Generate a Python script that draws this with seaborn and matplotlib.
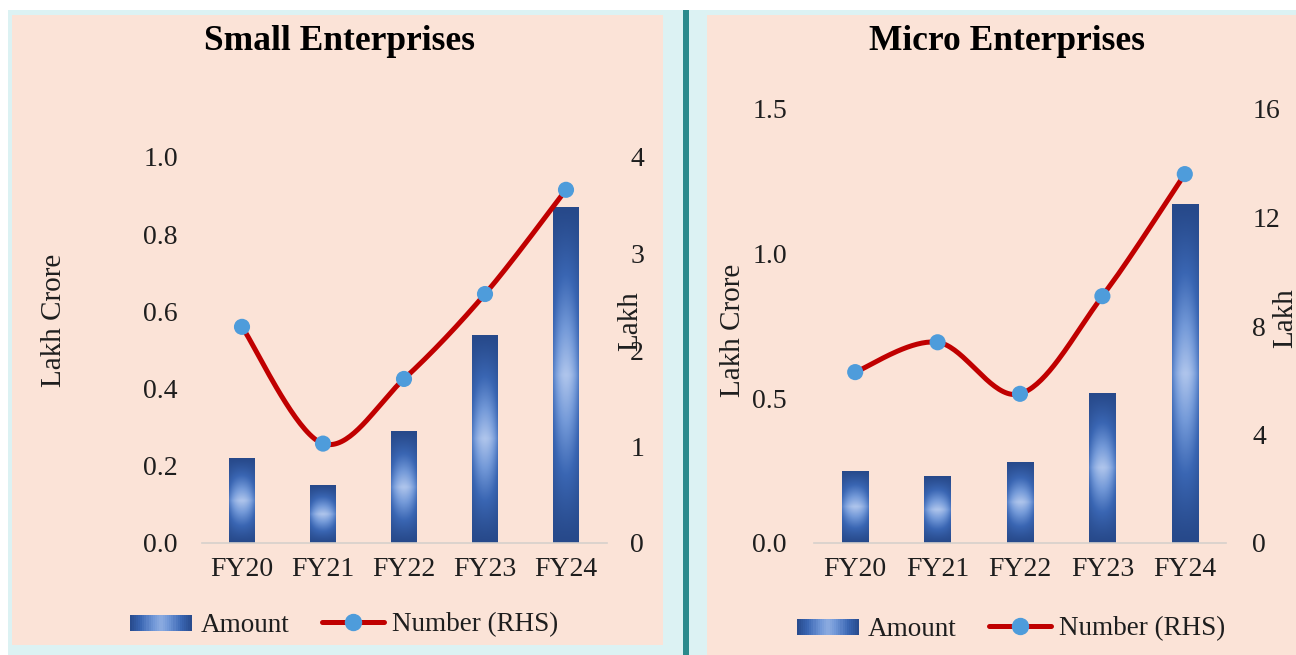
import numpy as np
import pandas as pd
import matplotlib
matplotlib.use("Agg")
import matplotlib.pyplot as plt
import seaborn as sns
from matplotlib.patches import Rectangle
from matplotlib.lines import Line2D
from matplotlib.colors import LinearSegmentedColormap
from matplotlib.legend_handler import HandlerBase

# ---- data -------------------------------------------------------------
years = ["FY20", "FY21", "FY22", "FY23", "FY24"]

small_amount = [0.22, 0.15, 0.29, 0.54, 0.87]   # Lakh Crore
small_number = [2.24, 1.03, 1.70, 2.58, 3.66]   # Lakh (RHS)

micro_amount = [0.25, 0.23, 0.28, 0.52, 1.17]   # Lakh Crore
micro_number = [6.3, 7.4, 5.5, 9.1, 13.6]       # Lakh (RHS)

small_left_ticks = [0.0, 0.2, 0.4, 0.6, 0.8, 1.0]
small_right_ticks = [0, 1, 2, 3, 4]
micro_left_ticks = [0.0, 0.5, 1.0, 1.5]
micro_right_ticks = [0, 4, 8, 12, 16]

# ---- style ------------------------------------------------------------
sns.set_theme(style="white")
plt.rcParams["font.family"] = ["Liberation Serif", "DejaVu Serif"]

W, H = 1296, 655
PEACH = "#FBE3D7"
CYAN = "#DCF2F3"
TEAL = "#2B8A8C"
RED = "#C00000"
DOT = "#4E9CDB"
TXT = "#1E1E1E"
BAR_CMAP = LinearSegmentedColormap.from_list(
    "bar", ["#27498A", "#3A66B3", "#7399D8", "#AFC5EC"])

fig = plt.figure(figsize=(W / 100, H / 100), dpi=100, facecolor="white")


def px_rect(x0, y0, x1, y1, color, z):
    fig.patches.append(Rectangle((x0 / W, 1 - y1 / H), (x1 - x0) / W, (y1 - y0) / H,
                                 transform=fig.transFigure, facecolor=color,
                                 edgecolor="none", zorder=z))


# background frame and panels
px_rect(8, 10, 1296, 655, CYAN, -30)
px_rect(12, 15, 663, 645, PEACH, -20)
px_rect(707, 15, 1296, 655, PEACH, -20)
px_rect(683, 10, 689, 655, TEAL, -10)


def smooth_curve(xs, ys, n=40):
    """Bezier smoothing through the points (control points at +-1/6 of neighbour span)."""
    P = np.column_stack([xs, ys]).astype(float)
    P = np.vstack([P[0], P, P[-1]])
    t = np.linspace(0, 1, n)[:, None]
    segs = []
    for i in range(1, len(P) - 2):
        p0, p1, p2, p3 = P[i - 1], P[i], P[i + 1], P[i + 2]
        c1 = p1 + (p2 - p0) / 6
        c2 = p2 - (p3 - p1) / 6
        seg = (1 - t) ** 3 * p1 + 3 * (1 - t) ** 2 * t * c1 + 3 * (1 - t) * t ** 2 * c2 + t ** 3 * p2
        segs.append(seg if i == 1 else seg[1:])
    return np.vstack(segs)


def bar_gradient(nv=200, nu=40):
    v = np.linspace(-1, 1, nv)[:, None]
    u = np.linspace(-1, 1, nu)[None, :]
    s = (1 - np.abs(v)) ** 1.2 * (1 - 0.5 * u ** 2)
    return BAR_CMAP(np.clip(s, 0, 1))


def panel(rect, amount, number, lticks, rticks, lfmt, lpad, rpad):
    ax = fig.add_axes(rect)
    ax.set_facecolor("none")
    df = pd.DataFrame({"year": years, "amount": amount})
    sns.barplot(data=df, x="year", y="amount", ax=ax, width=0.32,
                color="#3E6DBA", saturation=1, linewidth=0)
    grad = bar_gradient()
    for p in ax.patches:
        x0, y0 = p.get_x(), p.get_y()
        w, h = p.get_width(), p.get_height()
        im = ax.imshow(grad, extent=[x0, x0 + w, y0, y0 + h], origin="lower",
                       aspect="auto", zorder=2, interpolation="bilinear")
        im.set_clip_path(p)
        p.set_facecolor("none")
    ax.set_xlim(-0.5, len(years) - 0.5)
    ax.set_ylim(lticks[0], lticks[-1])
    ax.set_yticks(lticks)
    ax.set_yticklabels([lfmt.format(v) for v in lticks])
    ax.set_xlabel("")
    ax.set_ylabel("")
    for side in ["top", "left", "right"]:
        ax.spines[side].set_visible(False)
    ax.spines["bottom"].set_color("#D6D0CC")
    ax.spines["bottom"].set_linewidth(1.2)
    ax.tick_params(axis="y", length=0, pad=lpad, labelsize=20, labelcolor=TXT)
    ax.tick_params(axis="x", length=0, pad=10, labelsize=20, labelcolor=TXT)

    ax2 = ax.twinx()
    ax2.set_facecolor("none")
    xs = np.arange(len(years))
    curve = smooth_curve(xs, number)
    sns.lineplot(x=curve[:, 0], y=curve[:, 1], ax=ax2, color=RED, linewidth=3.6,
                 sort=False, estimator=None, zorder=3)
    sns.scatterplot(x=xs, y=number, ax=ax2, color=DOT, s=135, edgecolor="none",
                    zorder=4)
    ax2.set_ylim(rticks[0], rticks[-1])
    ax2.set_yticks(rticks)
    ax2.set_yticklabels([str(v) for v in rticks])
    ax2.set_xlim(-0.5, len(years) - 0.5)
    for side in ["top", "left", "right", "bottom"]:
        ax2.spines[side].set_visible(False)
    ax2.tick_params(axis="y", length=0, pad=rpad, labelsize=20, labelcolor=TXT)
    ax2.set_ylabel("")
    return ax, ax2


class GradientBarHandler(HandlerBase):
    def create_artists(self, legend, orig_handle, xdescent, ydescent, width, height,
                       fontsize, trans):
        n = 30
        arts = []
        for i in range(n):
            u = (i + 0.5) / n * 2 - 1
            s = 0.8 * (1 - abs(u) ** 1.2)
            arts.append(Rectangle((-xdescent + i * width / n, -ydescent + 0.05 * height),
                                  width / n * 1.05, height * 0.8,
                                  facecolor=BAR_CMAP(s), edgecolor="none",
                                  transform=trans))
        return arts


def add_legend(cx, cy):
    bar_h = Rectangle((0, 0), 1, 1)
    line_h = Line2D([], [], color=RED, lw=3.6, marker="o", markersize=11.5,
                    markerfacecolor=DOT, markeredgecolor=DOT)
    fig.legend([bar_h, line_h], ["Amount", "Number (RHS)"], loc="center",
               bbox_to_anchor=(cx / W, 1 - cy / H), ncol=2, frameon=False,
               fontsize=19.5, handlelength=2.3, handletextpad=0.3,
               columnspacing=1.2, labelcolor=TXT,
               handler_map={Rectangle: GradientBarHandler()})


# ---- Small Enterprises --------------------------------------------------
panel([201.5 / W, 112 / H, 405 / W, 386 / H], small_amount, small_number,
      small_left_ticks, small_right_ticks, "{:.1f}", 17, 17)
fig.text(340 / W, 1 - 42 / H, "Small Enterprises", ha="center", va="center",
         fontsize=25.5, fontweight="bold", color="black")
fig.text(54 / W, 1 - 320 / H, "Lakh Crore", rotation=90, ha="center", va="center",
         fontsize=21, color=TXT)
fig.text(630 / W, 1 - 321 / H, "Lakh", rotation=90, ha="center", va="center",
         fontsize=21, color=TXT)
add_legend(344, 625)

# ---- Micro Enterprises --------------------------------------------------
panel([814 / W, 112 / H, 412 / W, 434 / H], micro_amount, micro_number,
      micro_left_ticks, micro_right_ticks, "{:.1f}", 19.5, 19)
fig.text(1007 / W, 1 - 42 / H, "Micro Enterprises", ha="center", va="center",
         fontsize=25.5, fontweight="bold", color="black")
fig.text(733 / W, 1 - 330 / H, "Lakh Crore", rotation=90, ha="center", va="center",
         fontsize=21, color=TXT)
fig.text(1285 / W, 1 - 318 / H, "Lakh", rotation=90, ha="center", va="center",
         fontsize=21, color=TXT)
add_legend(1011, 629)

fig.savefig("out.png", dpi=100, facecolor="white")
